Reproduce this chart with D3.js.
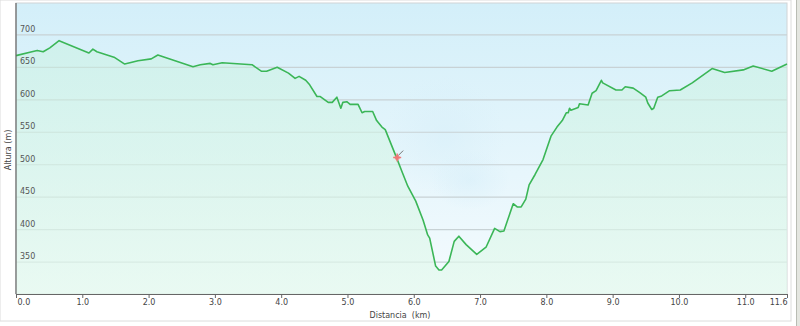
<!DOCTYPE html>
<html>
<head>
<meta charset="utf-8">
<script src="https://cdn.jsdelivr.net/npm/d3@7"></script>
<style>
  body { margin: 0; background: #fff; }
  svg { display: block; font-family: "DejaVu Sans", Verdana, sans-serif; }
</style>
</head>
<body>
<svg id="chart"></svg>
<script>
// distance along the route (km) and altitude (m)
const distKm = [0, 0.24, 0.32, 0.41, 0.51, 0.65, 1.10, 1.16, 1.22, 1.49, 1.64, 1.84, 2.04, 2.14,
  2.67, 2.78, 2.93, 2.97, 3.11, 3.56, 3.70, 3.78, 3.94, 4.11, 4.21, 4.27, 4.37, 4.43, 4.54, 4.59,
  4.71, 4.77, 4.84, 4.90, 4.93, 4.99, 5.04, 5.16, 5.22, 5.26, 5.38, 5.44, 5.52, 5.57, 5.74, 5.82,
  5.91, 6.03, 6.14, 6.21, 6.24, 6.33, 6.38, 6.42, 6.53, 6.61, 6.68, 6.79, 6.95, 7.09, 7.22, 7.30,
  7.36, 7.50, 7.56, 7.62, 7.69, 7.74, 7.83, 7.95, 8.07, 8.16, 8.24, 8.30, 8.33, 8.35, 8.37, 8.48,
  8.50, 8.63, 8.69, 8.75, 8.83, 8.85, 9.05, 9.14, 9.19, 9.31, 9.41, 9.50, 9.53, 9.59, 9.62, 9.68,
  9.74, 9.86, 10.02, 10.20, 10.50, 10.69, 10.97, 11.12, 11.40, 11.63];
const altitudeM = [668, 674, 676, 674, 680, 691, 672, 678, 674, 665, 655, 660, 663, 669,
  651, 654, 656, 654, 657, 654, 644, 644, 650, 641, 633, 636, 630, 623, 605, 605,
  596, 596, 604, 587, 596, 597, 593, 593, 580, 582, 582, 568, 558, 554, 511, 490,
  467, 444, 415, 392, 387, 344, 338, 338, 351, 382, 390, 377, 362, 373, 402, 397,
  398, 440, 435, 435, 447, 469, 485, 508, 544, 558, 568, 580, 580, 587, 584, 588,
  594, 592, 610, 614, 630, 626, 615, 615, 620, 618, 611, 604, 595, 585, 587, 604,
  606, 614, 615, 626, 648, 642, 646, 652, 644, 655];
const xTicks = [0, 1, 2, 3, 4, 5, 6, 7, 8, 9, 10, 11, 11.63];
const xTickLabels = ["0.0", "1.0", "2.0", "3.0", "4.0", "5.0", "6.0", "7.0", "8.0", "9.0", "10.0", "11.0", "11.6"];
const yTicks = [350, 400, 450, 500, 550, 600, 650, 700];
const markerKm = 5.75;
const markerAlt = 511;

const points = distKm.map((d, i) => ({ d, a: altitudeM[i] }));

const width = 800, height = 326;
const marginLeft = 16, plotRight = 787, plotTop = 3, plotBottom = 294;

const svg = d3.select('#chart').attr('width', width).attr('height', height);
const defs = svg.append('defs');

const bg = defs.append('linearGradient').attr('id', 'bg').attr('x1', 0).attr('y1', 0).attr('x2', 0).attr('y2', 1);
bg.append('stop').attr('offset', '0%').attr('stop-color', '#d3eff9');
bg.append('stop').attr('offset', '100%').attr('stop-color', '#f5fbfe');

const areaGrad = defs.append('linearGradient').attr('id', 'areaGrad').attr('x1', 0).attr('y1', 0).attr('x2', 0).attr('y2', 1);
areaGrad.append('stop').attr('offset', '0%').attr('stop-color', '#c6f1dd').attr('stop-opacity', 0.45);
areaGrad.append('stop').attr('offset', '100%').attr('stop-color', '#e4f9ed').attr('stop-opacity', 0.7);

const blob = defs.append('radialGradient').attr('id', 'blob');
blob.append('stop').attr('offset', '0%').attr('stop-color', '#d8eff9').attr('stop-opacity', 0.6);
blob.append('stop').attr('offset', '100%').attr('stop-color', '#d8eff9').attr('stop-opacity', 0);

// outer frame
svg.append('rect').attr('x', 0).attr('y', 0).attr('width', 791).attr('height', 321)
  .attr('fill', '#fff').attr('stroke', '#dcdcdc');
svg.append('rect').attr('x', 796).attr('y', 0).attr('width', 4).attr('height', 326).attr('fill', '#e4e6e0');
svg.append('line').attr('x1', 796.5).attr('x2', 796.5).attr('y1', 0).attr('y2', 326).attr('stroke', '#b9bcb4');

const x = d3.scaleLinear().domain([0, 11.63]).range([marginLeft, plotRight]);
const y = d3.scaleLinear().domain([301, 749]).range([plotBottom, plotTop]);

svg.append('rect').attr('x', marginLeft).attr('y', plotTop)
  .attr('width', plotRight - marginLeft).attr('height', plotBottom - plotTop)
  .attr('fill', 'url(#bg)').attr('stroke', '#d0d4d6');

// faded tooltip blob
svg.append('ellipse').attr('cx', 445).attr('cy', 135).attr('rx', 60).attr('ry', 60).attr('fill', 'url(#blob)');
svg.append('ellipse').attr('cx', 470).attr('cy', 180).attr('rx', 40).attr('ry', 30).attr('fill', 'url(#blob)');

// grid
svg.append('g').selectAll('line').data(yTicks).join('line')
  .attr('x1', marginLeft).attr('x2', plotRight)
  .attr('y1', d => y(d)).attr('y2', d => y(d))
  .attr('stroke', '#c8d2d5').attr('stroke-width', 1.2);

const area = d3.area().x(p => x(p.d)).y0(plotBottom).y1(p => y(p.a));
svg.append('path').datum(points).attr('d', area).attr('fill', 'url(#areaGrad)');

const line = d3.line().x(p => x(p.d)).y(p => y(p.a));
svg.append('path').datum(points).attr('d', line)
  .attr('fill', 'none').attr('stroke', '#3bb657').attr('stroke-width', 1.6)
  .attr('stroke-linejoin', 'round');

// y labels inside the plot
svg.append('g').selectAll('text').data(yTicks).join('text')
  .attr('x', 20).attr('y', d => y(d) - 3)
  .attr('font-size', 8).attr('fill', '#555')
  .text(d => d);

// left axis line
svg.append('line').attr('x1', marginLeft).attr('x2', marginLeft)
  .attr('y1', plotTop).attr('y2', plotBottom).attr('stroke', '#666').attr('stroke-width', 1.2);

// bottom axis
const xAxis = svg.append('g').attr('transform', `translate(0, ${plotBottom})`)
  .call(d3.axisBottom(x).tickValues(xTicks).tickSize(4).tickFormat((d, i) => xTickLabels[i]));
xAxis.select('.domain').attr('stroke', '#666');
xAxis.selectAll('.tick line').attr('stroke', '#666');
xAxis.selectAll('.tick text').attr('font-size', 8).attr('fill', '#444')
  .attr('font-family', '"DejaVu Sans", Verdana, sans-serif').attr('dy', '0.55em');
xAxis.selectAll('.tick text').filter((d, i) => i === 0).attr('text-anchor', 'start').attr('dx', 1);
xAxis.selectAll('.tick text').filter((d, i) => i === xTicks.length - 1).attr('text-anchor', 'end').attr('dx', 0);

svg.append('text').attr('x', 400).attr('y', 318).attr('text-anchor', 'middle')
  .attr('font-size', 8).attr('fill', '#444').text('Distancia\u00a0\u00a0(km)');
svg.append('text').attr('transform', 'translate(11, 150) rotate(-90)').attr('text-anchor', 'middle')
  .attr('font-size', 8).attr('fill', '#444').text('Altura (m)');

// position marker
const mk = svg.append('g').attr('transform', `translate(${x(markerKm)}, ${y(markerAlt)})`);
mk.append('line').attr('x1', 1).attr('y1', -2).attr('x2', 6).attr('y2', -7).attr('stroke', '#777').attr('stroke-width', 1);
mk.append('circle').attr('r', 2.5).attr('fill', '#f07878').attr('opacity', 0.85);
mk.append('path').attr('d', 'M-4,0H4M0,-4V4').attr('stroke', '#f07878').attr('stroke-width', 1.5);
</script>
</body>
</html>
